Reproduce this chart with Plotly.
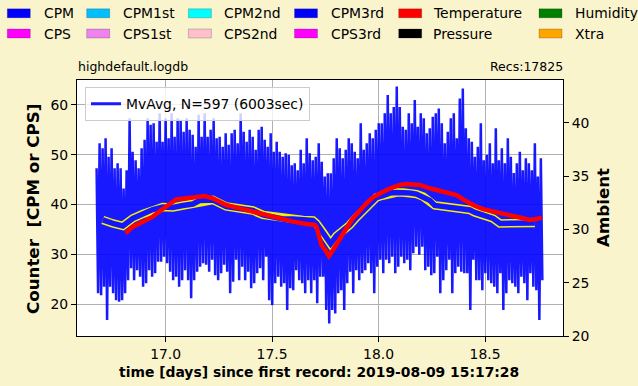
import numpy as np
import plotly.graph_objects as go

BG = "#FAF4CD"

# ---- CPM record (read as spike-top / spike-bottom envelope, evenly spaced in time)
cpm_t_start = 16.676
cpm_t_end = 18.762
cpm_high = [
    47.3, 52.3, 51.3, 53.3, 49.6, 51.3, 47.3, 48.3, 47.3, 43.2, 46.9, 57.3, 50.6, 48.9, 47.3, 51.3, 53.0, 57.3,
    56.0, 56.3, 52.6, 58.3, 52.6, 57.3, 53.3, 58.3, 53.6, 57.3, 57.0, 54.6, 57.3, 55.0, 54.0, 51.6, 58.0, 53.6,
    58.3, 53.6, 55.0, 57.3, 53.3, 53.6, 51.6, 54.3, 52.0, 54.3, 55.0, 52.3, 58.3, 54.6, 52.6, 55.0, 53.6, 51.0,
    55.0, 55.6, 53.0, 51.6, 54.3, 50.6, 52.6, 50.6, 49.6, 50.3, 50.0, 47.9, 48.3, 46.9, 51.0, 48.3, 53.3, 50.3, 48.9,
    49.6, 52.3, 48.6, 45.6, 46.3, 46.3, 49.3, 53.3, 51.3, 49.3, 51.0, 53.3, 52.3, 50.6, 49.3, 56.3, 51.0, 52.3,
    54.3, 53.3, 55.0, 56.3, 56.3, 58.3, 62.0, 58.3, 59.6, 63.7, 59.6, 55.6, 55.0, 58.3, 56.3, 61.0, 55.6, 58.3,
    57.3, 54.3, 55.3, 57.6, 58.3, 59.3, 56.3, 52.3, 54.6, 57.3, 58.3, 53.3, 61.3, 63.3, 55.3, 53.3, 52.6, 49.6,
    51.6, 56.3, 48.9, 50.0, 52.3, 48.3, 55.3, 48.9, 51.3, 48.3, 53.3, 49.6, 46.3, 48.3, 50.6, 46.9, 49.3, 48.3,
    46.9, 52.3, 45.6, 49.3,
]
cpm_low = [
    22.2, 21.8, 23.5, 16.8, 23.5, 22.2, 20.8, 20.5, 20.8, 22.2, 24.8, 27.2, 24.8, 26.8, 25.5, 23.5, 24.2, 26.8,
    25.5, 26.2, 28.5, 28.5, 29.5, 28.2, 26.5, 24.8, 25.5, 23.5, 24.8, 26.8, 24.8, 21.2, 24.8, 26.5, 27.5, 28.2,
    27.9, 26.5, 28.9, 25.8, 24.8, 26.2, 27.9, 26.5, 22.2, 24.5, 28.9, 24.8, 27.5, 24.8, 26.5, 23.2, 24.2, 26.2,
    27.2, 24.8, 29.5, 20.8, 19.8, 24.2, 25.5, 23.5, 24.2, 18.8, 23.2, 22.8, 26.8, 24.8, 24.2, 22.2, 24.8, 22.2, 24.8,
    20.2, 25.5, 25.5, 18.8, 16.1, 18.8, 18.1, 22.2, 22.8, 18.8, 24.2, 26.5, 22.2, 26.8, 24.8, 26.2, 26.8, 28.2,
    26.2, 22.2, 27.5, 28.9, 26.2, 28.9, 28.2, 29.5, 26.2, 27.5, 29.5, 28.2, 28.9, 26.8, 30.2, 31.5, 29.9, 31.5,
    26.8, 27.5, 25.8, 26.2, 29.5, 22.2, 24.8, 26.8, 28.9, 22.2, 26.2, 27.5, 26.5, 26.2, 26.2, 18.8, 28.9, 24.8,
    24.8, 22.8, 26.2, 24.8, 24.2, 23.5, 22.2, 26.2, 18.8, 22.2, 24.8, 24.2, 23.5, 22.2, 25.5, 24.2, 20.8, 26.2,
    23.5, 22.8, 16.8, 24.8,
]

# ---- Moving average of CPM
mvavg_t = [16.705, 16.721, 16.752, 16.799, 16.846, 16.893, 16.940, 16.987, 17.034, 17.081, 17.128, 17.160,
           17.222, 17.285, 17.348, 17.410, 17.457, 17.504, 17.551, 17.598, 17.645, 17.692, 17.708, 17.739,
           17.775, 17.802, 17.833, 17.865, 17.896, 17.927, 17.959, 17.990, 18.021, 18.053, 18.084, 18.115,
           18.147, 18.178, 18.209, 18.241, 18.264, 18.288, 18.350, 18.397, 18.429, 18.452, 18.491, 18.538,
           18.570, 18.617, 18.648, 18.695, 18.734]
mvavg_v = [36.9, 36.6, 36.2, 35.7, 37.2, 38.1, 39.0, 39.5, 39.4, 39.8, 40.1, 40.8,
           40.9, 39.6, 39.2, 38.8, 37.9, 37.6, 37.1, 37.1, 36.9, 36.8, 36.2, 34.4,
           32.1, 33.7, 34.7, 35.9, 37.4, 38.8, 40.4, 41.4, 41.8, 42.3, 42.4, 42.4,
           42.3, 42.1, 41.6, 40.8, 39.8, 39.7, 39.4, 39.0, 38.9, 38.4, 37.8, 37.2,
           36.2, 36.2, 36.1, 36.2, 36.3]

# ---- Temperature (right axis)
temp_t = [16.812, 16.846, 16.893, 16.940, 16.980, 17.019, 17.050, 17.097, 17.144, 17.183, 17.222, 17.285,
          17.348, 17.410, 17.473, 17.536, 17.598, 17.661, 17.700, 17.708, 17.732, 17.755, 17.767, 17.786,
          17.818, 17.849, 17.880, 17.912, 17.943, 17.974, 18.006, 18.037, 18.068, 18.100, 18.131, 18.162,
          18.194, 18.241, 18.288, 18.335, 18.366, 18.397, 18.444, 18.491, 18.538, 18.585, 18.632, 18.679,
          18.711, 18.734, 18.766]
temp_v = [29.63, 30.25, 30.72, 31.19, 31.81, 32.44, 32.81, 32.91, 33.06, 33.12, 32.91, 32.28,
          31.97, 31.65, 31.34, 30.94, 30.72, 30.50, 30.41, 30.25, 28.53, 27.90, 27.50, 28.06,
          29.16, 30.10, 31.04, 31.81, 32.44, 33.00, 33.38, 33.69, 33.94, 34.16, 34.25, 34.25,
          34.16, 33.85, 33.60, 33.44, 33.22, 32.81, 32.28, 31.90, 31.65, 31.44, 31.25, 31.04,
          30.88, 30.94, 31.10]

# ---- Figure legend (top)
leg_row1 = ["CPM", "CPM1st", "CPM2nd", "CPM3rd", "Temperature", "Humidity"]
leg_row1_col = ["#0000FF", "#00BFFF", "#00FFFF", "#0000FF", "#FF0000", "#008000"]
leg_row2 = ["CPS", "CPS1st", "CPS2nd", "CPS3rd", "Pressure", "Xtra"]
leg_row2_col = ["#FF00FF", "#EE82EE", "#FFC0CB", "#FF00FF", "#000000", "#FFA500"]

title_left = "highdefault.logdb"
title_right = "Recs:17825"
xlabel = "time [days] since first record: 2019-08-09 15:17:28"
ylabel = "Counter  [CPM or CPS]"
y2label = "Ambient"
mvavg_name = "MvAvg, N=597 (6003sec)"

# ---------------- build
n = len(cpm_high)
t = np.linspace(cpm_t_start, cpm_t_end, n)
half = (t[1] - t[0]) / 2
xs = np.empty(2 * n)
ys = np.empty(2 * n)
xs[0::2] = t
xs[1::2] = t + half
ys[0::2] = cpm_high
ys[1::2] = cpm_low

L, R, T, B = 77, 75, 80, 50
W, H = 638, 386
PW, PH = W - L - R, H - T - B


def px(xpix):
    return (xpix - L) / PW


def py(ypix):
    return (H - B - ypix) / PH


FONT = "DejaVu Sans"

fig = go.Figure()
fig.add_trace(go.Scatter(x=xs, y=ys, mode="lines", line=dict(color="rgba(0,0,255,0.9)", width=2.5),
                         showlegend=False, hoverinfo="skip"))
fig.add_trace(go.Scatter(x=mvavg_t, y=mvavg_v, mode="lines", line=dict(color="#F2F200", width=8.5),
                         showlegend=False))
fig.add_trace(go.Scatter(x=mvavg_t, y=mvavg_v, mode="lines", line=dict(color="#1414FF", width=5.5),
                         showlegend=False))
fig.add_trace(go.Scatter(x=[None], y=[None], mode="lines", line=dict(color="#1a1aff", width=3),
                         name=mvavg_name, showlegend=True))
fig.add_trace(go.Scatter(x=temp_t, y=temp_v, yaxis="y2", mode="lines", line=dict(color="#FF0000", width=4.5),
                         showlegend=False))

axis_common = dict(ticks="outside", ticklen=5, tickcolor="black", tickwidth=1, showline=True,
                   linecolor="black", linewidth=1, zeroline=False,
                   tickfont=dict(family=FONT, size=13.9, color="black"))

fig.update_layout(
    width=W, height=H,
    margin=dict(l=L, r=R, t=T, b=B, autoexpand=False),
    paper_bgcolor=BG, plot_bgcolor="white",
    font=dict(family=FONT, size=13.9, color="black"),
    xaxis=dict(range=[16.584, 18.866], tick0=17, dtick=0.5, tickformat=".1f", showgrid=True,
               gridcolor="#b0b0b0", gridwidth=1, mirror=True, **axis_common),
    yaxis=dict(range=[13.6, 65.0], tick0=20, dtick=10, showgrid=True, gridcolor="#b0b0b0", gridwidth=1,
               mirror=True, **axis_common),
    yaxis2=dict(range=[20, 44.0], tick0=20, dtick=5, overlaying="y", side="right", showgrid=False,
                **axis_common),
    legend=dict(x=px(85), y=py(87.3), xanchor="left", yanchor="top", bgcolor="rgba(255,255,255,0.8)",
                bordercolor="#cccccc", borderwidth=1, font=dict(family=FONT, size=13.9, color="black")),
    showlegend=True,
)

ann = []
shapes = []
patch_x = [7.3, 86.7, 188.4, 294.5, 398.7, 539.0]
text_x = [42.7, 122.0, 223.0, 329.5, 432.0, 573.6]
for row_y, labels, cols in [(13.3, leg_row1, leg_row1_col), (33.5, leg_row2, leg_row2_col)]:
    for i, (lab, c) in enumerate(zip(labels, cols)):
        shapes.append(dict(type="rect", xref="paper", yref="paper",
                           x0=px(patch_x[i]), x1=px(patch_x[i] + 23), y0=py(row_y + 4.5), y1=py(row_y - 4.5),
                           fillcolor=c, line=dict(color="rgba(0,0,0,0.2)", width=1), layer="above"))
        ann.append(dict(text=lab, xref="paper", yref="paper", x=px(text_x[i]), y=py(row_y), xanchor="left",
                        yanchor="middle", showarrow=False, font=dict(family=FONT, size=13.9, color="black"),
                        borderpad=0))

ann.append(dict(text=title_left, xref="paper", yref="paper", x=px(76.5), y=py(66.7), xanchor="left",
                yanchor="middle", showarrow=False, font=dict(family=FONT, size=12.5, color="black"), borderpad=0))
ann.append(dict(text=title_right, xref="paper", yref="paper", x=px(563.5), y=py(66.7), xanchor="right",
                yanchor="middle", showarrow=False, font=dict(family=FONT, size=12.5, color="black"), borderpad=0))
ann.append(dict(text="<b>" + xlabel + "</b>", xref="paper", yref="paper", x=px(319), y=py(372),
                xanchor="center", yanchor="middle", showarrow=False,
                font=dict(family=FONT, size=13.9, color="black"), borderpad=0))
ann.append(dict(text="<b>" + ylabel + "</b>", xref="paper", yref="paper", x=px(33), y=py(209),
                xanchor="center", yanchor="middle", textangle=-90, showarrow=False,
                font=dict(family=FONT, size=16.67, color="black"), borderpad=0))
ann.append(dict(text="<b>" + y2label + "</b>", xref="paper", yref="paper", x=px(603), y=py(208),
                xanchor="center", yanchor="middle", textangle=-90, showarrow=False,
                font=dict(family=FONT, size=16.67, color="black"), borderpad=0))

fig.update_layout(annotations=ann, shapes=shapes)
fig.write_html("out.html", config={"displayModeBar": False},
               post_script="document.body.style.margin='0';document.body.style.overflow='hidden';")
